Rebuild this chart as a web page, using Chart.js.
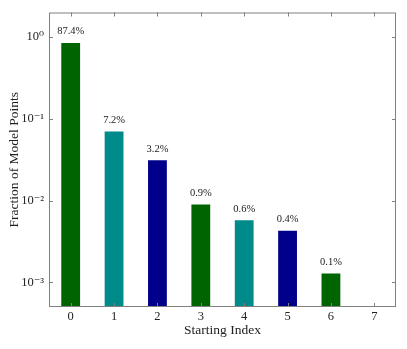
<!DOCTYPE html>
<html><head><meta charset="utf-8">
<script src="https://cdn.jsdelivr.net/npm/chart.js@4.4.1/dist/chart.umd.min.js"></script>
<style>html,body{margin:0;padding:0;background:#fff}#wrap{width:407px;height:349px}</style>
</head><body><div id="wrap"><canvas id="c" width="407" height="349"></canvas></div>
<script>
const categories = ['0','1','2','3','4','5','6','7'];
const fractions = [0.874, 0.072, 0.032, 0.0092, 0.0059, 0.0044, 0.00132, null];
const barLabels = ['87.4%','7.2%','3.2%','0.9%','0.6%','0.4%','0.1%',''];
const barColors = ['#006400','#008b8b','#00008b','#006400','#008b8b','#00008b','#006400','#006400'];
const yTickValues = [1e-3, 1e-2, 1e-1, 1];
const yTickLabels = {'0.001':'10⁻³','0.01':'10⁻²','0.1':'10⁻¹','1':'10⁰'};

const FONT = "'Liberation Serif', 'DejaVu Serif', serif";

const framePlugin = {
  id: 'frame',
  afterDatasetsDraw(chart) {
    const {ctx, chartArea: a, scales} = chart;
    ctx.save();
    ctx.fillStyle = '#222';
    ctx.font = '10.5px ' + FONT;
    ctx.textAlign = 'center';
    ctx.textBaseline = 'bottom';
    const meta = chart.getDatasetMeta(0);
    meta.data.forEach((el, i) => {
      if (fractions[i] == null) return;
      ctx.fillText(barLabels[i], el.x, el.y - 5);
    });
    ctx.strokeStyle = '#808080';
    ctx.lineWidth = 1;
    ctx.strokeRect(a.left + 0.5, a.top + 0.5, a.right - a.left - 1, a.bottom - a.top - 1);
    ctx.beginPath();
    categories.forEach((c, i) => {
      const x = Math.round(scales.x.getPixelForValue(i)) + 0.5;
      ctx.moveTo(x, a.top); ctx.lineTo(x, a.top + 4);
      ctx.moveTo(x, a.bottom); ctx.lineTo(x, a.bottom - 4);
    });
    yTickValues.forEach(v => {
      const y = Math.round(scales.y.getPixelForValue(v)) + 0.5;
      ctx.moveTo(a.left, y); ctx.lineTo(a.left + 4, y);
      ctx.moveTo(a.right, y); ctx.lineTo(a.right - 4, y);
    });
    ctx.stroke();
    ctx.restore();
  }
};

new Chart(document.getElementById('c'), {
  type: 'bar',
  data: {
    labels: categories,
    datasets: [{
      data: fractions,
      backgroundColor: barColors,
      borderColor: 'rgba(255,255,255,0.35)',
      borderWidth: 1,
      barPercentage: 0.48,
      categoryPercentage: 1.0
    }]
  },
  options: {
    responsive: false,
    animation: false,
    layout: {padding: {left: 0, right: 11, top: 10, bottom: 0}},
    plugins: {legend: {display: false}, tooltip: {enabled: false}},
    scales: {
      x: {
        type: 'category',
        offset: true,
        grid: {display: false, drawTicks: false},
        border: {display: false},
        ticks: {color: '#222', font: {family: FONT, size: 12.5}, padding: 2},
        title: {display: true, text: 'Starting Index', color: '#222', font: {family: FONT, size: 13.5}, padding: {top: 0, bottom: 10}},
        afterFit(s) { s.height = 42; }
      },
      y: {
        type: 'logarithmic',
        min: 5e-4,
        max: 2,
        grid: {display: false, drawTicks: false},
        border: {display: false},
        afterBuildTicks(s) { s.ticks = yTickValues.map(v => ({value: v})); },
        ticks: {
          color: '#222',
          font: {family: FONT, size: 12.5},
          padding: 5,
          callback: (v) => yTickLabels[String(v)] || ''
        },
        title: {display: true, text: 'Fraction of Model Points', color: '#222', font: {family: FONT, size: 13.5}, padding: {top: 6, bottom: 0}},
        afterFit(s) { s.width = 49; }
      }
    }
  },
  plugins: [framePlugin]
});
</script></body></html>
